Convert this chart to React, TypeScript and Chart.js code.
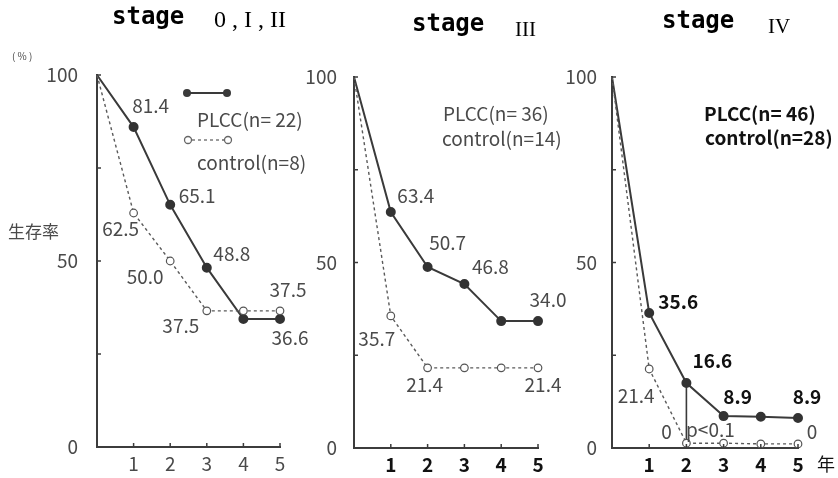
import React, { useEffect, useRef } from "react";
import { Chart, registerables } from "chart.js";

Chart.register(...registerables);

// ---------- data ----------
const years = [0, 1, 2, 3, 4, 5];
const yTickValues = [0, 25, 50, 75, 100];

const s1Plcc = [100, 86.0, 65.1, 48.2, 34.4, 34.4];
const s1Control = [100, 62.9, 50.0, 36.6, 36.6, 36.6];
const s3Plcc = [100, 63.6, 48.8, 44.2, 34.2, 34.2];
const s3Control = [100, 35.6, 21.6, 21.6, 21.6, 21.6];
const s4Plcc = [100, 36.4, 17.5, 8.6, 8.4, 8.1];
const s4Control = [100, 21.3, 1.3, 1.3, 1.1, 1.1];

const s1PlccText = ["", "81.4", "65.1", "48.8", "", "36.6"];
const s1ControlText = ["", "62.5", "50.0", "37.5", "", "37.5"];
const s3PlccText = ["", "63.4", "50.7", "46.8", "", "34.0"];
const s3ControlText = ["", "35.7", "21.4", "", "", "21.4"];
const s4PlccText = ["", "35.6", "16.6", "8.9", "", "8.9"];
const s4ControlText = ["", "21.4", "0", "", "", "0"];

const titles = [["stage", "0 , I , II"], ["stage", "III"], ["stage", "IV"]];
const legends = [
  ["PLCC(n= 22)", "control(n=8)"],
  ["PLCC(n= 36)", "control(n=14)"],
  ["PLCC(n= 46)", "control(n=28)"],
];
const pValueText = "p<0.1";
const pValueYear = 2;

// ---------- styles ----------
const NUM = "'Noto Sans CJK JP', 'Liberation Sans', sans-serif";
const AXIS = "#3c3c3c";
const GRAY = "#4a4a4a";
const BLACK = "#111";

type Off = [number, number] | null;

const panels = [
  {
    pad: { left: 37, right: 558, top: 75, bottom: 1 },
    plcc: s1Plcc, control: s1Control,
    plccText: s1PlccText, controlText: s1ControlText,
    plccOff: [null, [17, -21], [27, -9], [25, -14], null, [10, 19]] as Off[],
    controlOff: [null, [-13, 16], [-25, 16], [-26, 15], null, [8, -21]] as Off[],
    plccColor: GRAY, controlColor: GRAY, plccBold: false, controlBold: false,
    yTickPad: 19, xTickColor: GRAY, xBold: false,
    title: { x1: 112, y1: 24, x2: 214, y2: 27, size2: 24 },
    legend: { x1: 197, y1: 120, x2: 197, y2: 163, color: GRAY, bold: false, samples: true },
    pvalue: false,
  },
  {
    pad: { left: 294, right: 300, top: 77, bottom: 0 },
    plcc: s3Plcc, control: s3Control,
    plccText: s3PlccText, controlText: s3ControlText,
    plccOff: [null, [25, -16], [20, -24], [26, -17], null, [10, -21]] as Off[],
    controlOff: [null, [-14, 23], [-3, 17], null, null, [5, 17]] as Off[],
    plccColor: GRAY, controlColor: GRAY, plccBold: false, controlBold: false,
    yTickPad: 17, xTickColor: BLACK, xBold: true,
    title: { x1: 412, y1: 31, x2: 515, y2: 36, size2: 21 },
    legend: { x1: 443, y1: 114, x2: 442, y2: 139, color: GRAY, bold: false, samples: false },
    pvalue: false,
  },
  {
    pad: { left: 552, right: 40, top: 77, bottom: 0 },
    plcc: s4Plcc, control: s4Control,
    plccText: s4PlccText, controlText: s4ControlText,
    plccOff: [null, [29, -11], [26, -22], [14, -19], null, [9, -21]] as Off[],
    controlOff: [null, [-13, 27], [-20, -11], null, null, [14, -12]] as Off[],
    plccColor: BLACK, controlColor: GRAY, plccBold: true, controlBold: false,
    yTickPad: 15, xTickColor: BLACK, xBold: true,
    title: { x1: 662, y1: 28, x2: 768, y2: 33, size2: 21 },
    legend: { x1: 704, y1: 114, x2: 705, y2: 138, color: BLACK, bold: true, samples: false },
    pvalue: true,
  },
];

const pts = (vals: number[]) => years.map((x, i) => ({ x, y: vals[i] }));
const numFont = (bold: boolean, size = 19) => `${bold ? "bold" : "normal"} ${size}px ${NUM}`;

function makePlugin(p: any, idx: number) {
  return {
    id: "panelDeco" + idx,
    afterDatasetsDraw(chart: any) {
      const ctx = chart.ctx as CanvasRenderingContext2D;
      const xs = chart.scales.x;
      const ys = chart.scales.y;
      ctx.save();
      // inside tick marks
      ctx.strokeStyle = AXIS;
      ctx.lineWidth = 1.5;
      yTickValues.forEach((v) => {
        if (v === 0) return;
        const py = ys.getPixelForValue(v);
        ctx.beginPath();
        ctx.moveTo(xs.left, py);
        ctx.lineTo(xs.left + 4, py);
        ctx.stroke();
      });
      years.forEach((v) => {
        if (v === 0) return;
        const px = xs.getPixelForValue(v);
        ctx.beginPath();
        ctx.moveTo(px, ys.bottom + 1);
        ctx.lineTo(px, ys.bottom - 4);
        ctx.stroke();
      });

      // point labels
      ctx.textAlign = "center";
      ctx.textBaseline = "middle";
      const drawLabels = (dsIndex: number, texts: string[], offs: Off[], color: string, bold: boolean) => {
        const meta = chart.getDatasetMeta(dsIndex);
        texts.forEach((t, i) => {
          const o = offs[i];
          if (!t || !o) return;
          const el = meta.data[i];
          ctx.fillStyle = color;
          ctx.font = numFont(bold);
          ctx.fillText(t, el.x + o[0], el.y + o[1]);
        });
      };
      drawLabels(0, p.controlText, p.controlOff, p.controlColor, p.controlBold);
      drawLabels(1, p.plccText, p.plccOff, p.plccColor, p.plccBold);

      if (p.pvalue) {
        ctx.fillStyle = GRAY;
        ctx.font = numFont(false);
        ctx.fillText(pValueText, xs.getPixelForValue(pValueYear) + 24, ys.getPixelForValue(0) - 18);
      }

      // titles
      ctx.textAlign = "left";
      ctx.textBaseline = "alphabetic";
      ctx.fillStyle = "#000";
      ctx.font = "bold 24px 'DejaVu Sans Mono', monospace";
      ctx.fillText(titles[idx][0], p.title.x1, p.title.y1);
      ctx.font = `${p.title.size2}px 'Liberation Serif', 'DejaVu Serif', serif`;
      ctx.fillText(titles[idx][1], p.title.x2, p.title.y2);

      // legend
      const L = p.legend;
      ctx.textBaseline = "middle";
      ctx.fillStyle = L.color;
      ctx.font = numFont(L.bold);
      ctx.fillText(legends[idx][0], L.x1, L.y1);
      ctx.fillText(legends[idx][1], L.x2, L.y2);
      if (L.samples) {
        ctx.strokeStyle = "#3a3a3a";
        ctx.lineWidth = 2;
        ctx.setLineDash([]);
        ctx.beginPath();
        ctx.moveTo(187, 93);
        ctx.lineTo(227, 93);
        ctx.stroke();
        ctx.fillStyle = "#3a3a3a";
        [187, 227].forEach((x) => {
          ctx.beginPath();
          ctx.arc(x, 93, 4, 0, Math.PI * 2);
          ctx.fill();
        });
        ctx.strokeStyle = "#666";
        ctx.lineWidth = 1.3;
        ctx.setLineDash([3, 3]);
        ctx.beginPath();
        ctx.moveTo(192, 140);
        ctx.lineTo(224, 140);
        ctx.stroke();
        ctx.setLineDash([]);
        ctx.fillStyle = "#fff";
        [188, 228].forEach((x) => {
          ctx.beginPath();
          ctx.arc(x, 140, 3.5, 0, Math.PI * 2);
          ctx.fill();
          ctx.stroke();
        });
      }

      // global texts
      if (idx === 0) {
        ctx.fillStyle = GRAY;
        ctx.textBaseline = "middle";
        ctx.font = numFont(false, 10);
        ctx.fillText("( % )", 12, 56);
        ctx.font = "17px 'Noto Sans CJK JP', sans-serif";
        ctx.fillText("生存率", 8, 232);
      }
      if (idx === 2) {
        ctx.fillStyle = BLACK;
        ctx.textBaseline = "middle";
        ctx.font = "18px 'Noto Sans CJK JP', sans-serif";
        ctx.fillText("年", 817, 464);
      }
      ctx.restore();
    },
  };
}

function buildConfig(p: any, idx: number): any {
  const datasets: any[] = [
    {
      label: "control",
      data: pts(p.control),
      borderColor: "#5a5a5a",
      borderWidth: 1.4,
      borderDash: [3, 3],
      pointRadius: years.map((y) => (y === 0 ? 0 : 3.8)),
      pointBackgroundColor: "#fff",
      pointBorderColor: "#555",
      pointBorderWidth: 1.2,
      clip: false,
    },
    {
      label: "PLCC",
      data: pts(p.plcc),
      borderColor: "#3a3a3a",
      borderWidth: 2,
      pointRadius: years.map((y) => (y === 0 ? 0 : 4)),
      pointBackgroundColor: "#333",
      pointBorderColor: "#333",
      clip: false,
    },
  ];
  if (p.pvalue) {
    const i = years.indexOf(pValueYear);
    datasets.push({
      label: "p",
      data: [{ x: pValueYear, y: p.plcc[i] }, { x: pValueYear, y: 0 }],
      borderColor: "#3a3a3a",
      borderWidth: 1.6,
      pointRadius: 0,
      clip: false,
    });
  }
  return {
    type: "line",
    data: { datasets },
    options: {
      animation: false,
      responsive: false,
      events: [],
      layout: { padding: p.pad },
      plugins: { legend: { display: false }, tooltip: { enabled: false } },
      scales: {
        x: {
          type: "linear",
          min: 0,
          max: 5,
          afterFit: (s: any) => { s.height = 30; },
          grid: { display: false, drawTicks: false },
          border: { display: true, color: AXIS, width: 2 },
          ticks: {
            stepSize: 1,
            padding: 5,
            color: p.xTickColor,
            font: { family: NUM, size: 19, weight: p.xBold ? "bold" : "normal" },
            callback: (v: any) => (v === 0 ? "" : String(v)),
          },
        },
        y: {
          type: "linear",
          min: 0,
          max: 100,
          afterFit: (s: any) => { s.width = 60; },
          grid: { display: false, drawTicks: false },
          border: { display: true, color: AXIS, width: 2 },
          ticks: {
            stepSize: 25,
            padding: p.yTickPad,
            color: GRAY,
            font: { family: NUM, size: 19 },
            callback: (v: any) => (v % 50 === 0 ? String(v) : ""),
          },
        },
      },
    },
    plugins: [makePlugin(p, idx)],
  };
}

function PanelCanvas({ idx }: { idx: number }) {
  const ref = useRef<HTMLCanvasElement | null>(null);
  useEffect(() => {
    if (!ref.current) return;
    const chart = new Chart(ref.current, buildConfig(panels[idx], idx));
    return () => chart.destroy();
  }, [idx]);
  return (
    <canvas
      ref={ref}
      width={838}
      height={478}
      style={{ position: "absolute", left: 0, top: 0, width: 838, height: 478 }}
    />
  );
}

export default function App() {
  return (
    <div style={{ position: "absolute", left: 0, top: 0, width: 838, height: 478, background: "#fff" }}>
      {panels.map((_, i) => (
        <PanelCanvas key={i} idx={i} />
      ))}
    </div>
  );
}
